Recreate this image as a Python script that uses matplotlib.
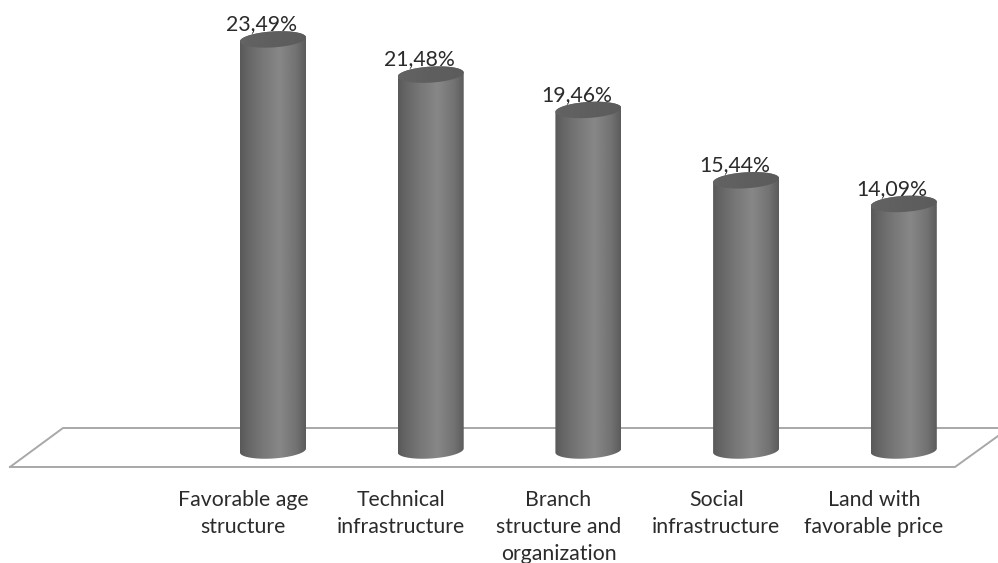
import numpy as np
import matplotlib
matplotlib.use("Agg")
import matplotlib.pyplot as plt
from matplotlib.patches import Polygon

categories = ["Favorable age\nstructure", "Technical\ninfrastructure",
              "Branch\nstructure and\norganization", "Social\ninfrastructure",
              "Land with\nfavorable price"]
values = [23.49, 21.48, 19.46, 15.44, 14.09]
value_labels = ["23,49%", "21,48%", "19,46%", "15,44%", "14,09%"]

W, H = 998, 563
x_step = 157.7
x0 = 273.0
y_zero = 450.5
y_unit = 17.5

plt.rcParams['font.family'] = ['Lato', 'DejaVu Sans']

fig = plt.figure(figsize=(W / 100, H / 100), dpi=100)
ax = fig.add_axes([0, 0, 1, 1])
ax.set_xlim(-x0 / x_step, (W - x0) / x_step)
ax.set_ylim(-(H - y_zero) / y_unit, y_zero / y_unit)
ax.axis("off")

half_w = 33.0 / x_step
rim_h = 8.0 / y_unit
tilt = 2.0 / y_unit

# shading across the cylinder, dark edges with a lighter band right of centre
shade_pos = [0.0, 0.12, 0.35, 0.6, 0.85, 1.0]
shade_val = [0.35, 0.40, 0.47, 0.53, 0.45, 0.36]
shade = np.interp(np.linspace(0, 1, 200), shade_pos, shade_val)[None, :]
lid_shade = np.interp(np.linspace(0, 1, 200), [0, 0.5, 1], [0.39, 0.37, 0.36])[None, :]


def rim(cx, cy, t):
    return np.column_stack([cx + half_w * np.cos(t),
                            cy + rim_h * np.sin(t) + tilt * np.cos(t)])


# floor of the 3d plot
floor_x = np.array([10, 63, 998, 998, 955, 10]) - x0
floor_y = y_zero - np.array([467, 428, 428, 436, 467, 467])
ax.plot(floor_x[:3] / x_step, floor_y[:3] / y_unit, color="#a8a8a8", lw=1.4, zorder=1)
ax.plot(floor_x[3:] / x_step, floor_y[3:] / y_unit, color="#a8a8a8", lw=1.4, zorder=1)
ax.plot(floor_x[[0, 5]] / x_step, floor_y[[0, 5]] / y_unit, color="#a8a8a8", lw=1.4, zorder=1)

for i, v in enumerate(values):
    extent = [i - half_w, i + half_w, -2 * rim_h, v + 2 * rim_h]

    # body: top half of the lid arc is hidden under the lid itself
    lower = rim(i, 0, np.linspace(np.pi, 2 * np.pi, 60))
    upper = rim(i, v, np.linspace(0, np.pi, 60))
    body = Polygon(np.vstack([lower, upper]), closed=True, transform=ax.transData,
                   fc="none", ec="none")
    ax.add_patch(body)
    im = ax.imshow(shade, extent=extent, cmap="gray", vmin=0, vmax=1,
                   aspect="auto", zorder=3, interpolation="bilinear")
    im.set_clip_path(body)

    lid = Polygon(rim(i, v, np.linspace(0, 2 * np.pi, 120)), closed=True,
                  transform=ax.transData, fc="none", ec="none")
    ax.add_patch(lid)
    im2 = ax.imshow(lid_shade, extent=extent, cmap="gray", vmin=0, vmax=1,
                    aspect="auto", zorder=4, interpolation="bilinear")
    im2.set_clip_path(lid)

    ax.annotate(value_labels[i], (i, v), xytext=(-8.5, 3.8), textcoords="offset points",
                ha="center", va="bottom", fontsize=15.3, color="#2b2b2b", zorder=5)
    ax.annotate(categories[i], (i, 0), xytext=(-21.5, -28.5), textcoords="offset points",
                ha="center", va="top", fontsize=15.3, color="#2b2b2b",
                linespacing=1.43, annotation_clip=False)

ax.set_xlim(-x0 / x_step, (W - x0) / x_step)
ax.set_ylim(-(H - y_zero) / y_unit, y_zero / y_unit)

fig.savefig("out.png", dpi=100)
